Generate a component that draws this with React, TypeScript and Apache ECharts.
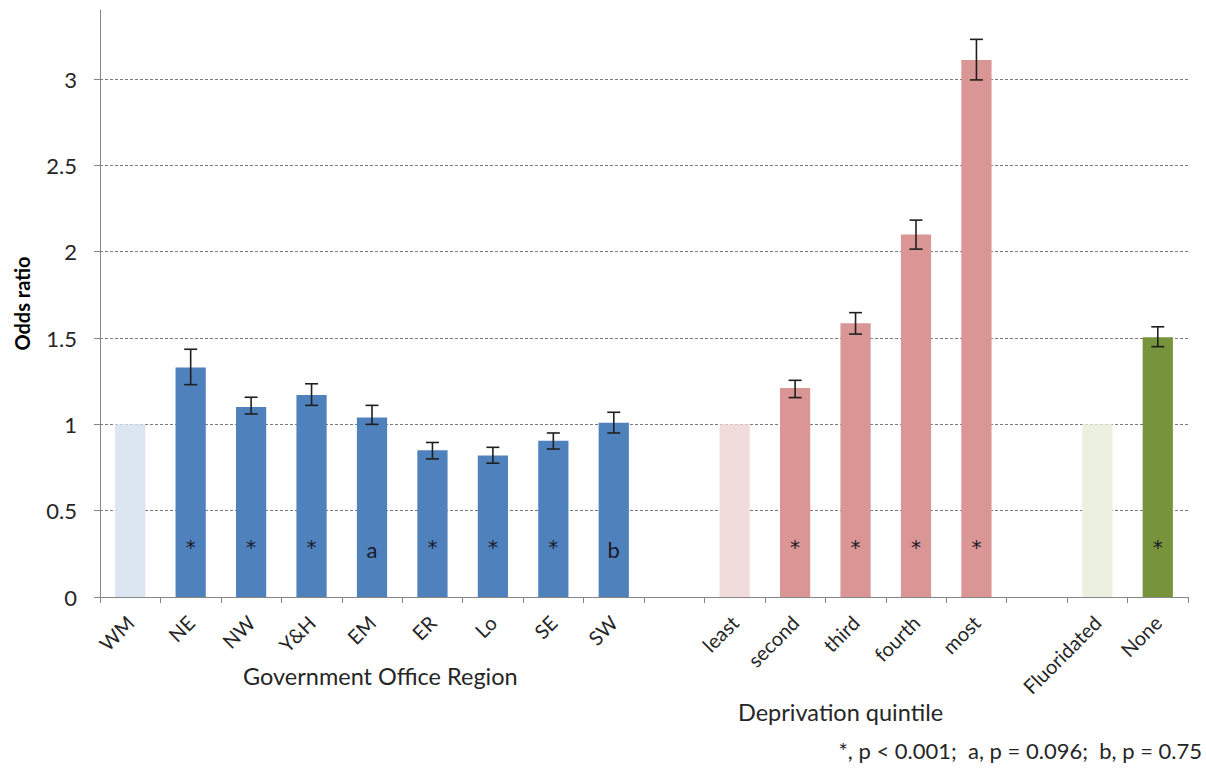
import React, { useEffect, useRef } from "react";
import * as echarts from "echarts";

const categories = ["WM", "NE", "NW", "Y&H", "EM", "ER", "Lo", "SE", "SW", "gap1", "least", "second", "third", "fourth", "most", "gap2", "Fluoridated", "None"];
const groups = ["region", "region", "region", "region", "region", "region", "region", "region", "region", "", "deprivation", "deprivation", "deprivation", "deprivation", "deprivation", "", "fluoride", "fluoride"];
const isReference = [true, false, false, false, false, false, false, false, false, false, true, false, false, false, false, false, true, false];
const oddsRatio = [1.0, 1.33, 1.10, 1.17, 1.04, 0.85, 0.82, 0.905, 1.01, null, 1.0, 1.21, 1.585, 2.10, 3.11, null, 1.0, 1.505];
const ciLow = [null, 1.23, 1.06, 1.11, 1.0, 0.80, 0.775, 0.857, 0.95, null, null, 1.155, 1.523, 2.015, 2.995, null, null, 1.45];
const ciHigh = [null, 1.435, 1.157, 1.235, 1.11, 0.895, 0.867, 0.95, 1.07, null, null, 1.255, 1.647, 2.183, 3.23, null, null, 1.565];
const significance = ["", "*", "*", "*", "a", "*", "*", "*", "b", "", "", "*", "*", "*", "*", "", "", "*"];
const yTicks = [0, 0.5, 1, 1.5, 2, 2.5, 3];
const yAxisTitle = "Odds ratio";
const groupTitles = ["Government Office Region", "Deprivation quintile"];
const footnote = "*, p < 0.001;  a, p = 0.096;  b, p = 0.75";

const FONT = "Lato";

const groupColors: Record<string, { main: string; ref: string }> = {
  region: { main: "#4f81bd", ref: "#dce6f2" },
  deprivation: { main: "#d99694", ref: "#f2dcdb" },
  fluoride: { main: "#77933c", ref: "#ebf1de" },
};

export default function App() {
  const ref = useRef<HTMLDivElement>(null);

  useEffect(() => {
    document.body.style.margin = "0";
    const chart = echarts.init(ref.current!, null, { renderer: "svg" });

    const barData = oddsRatio.map((v, i) => {
      if (v === null) return "-";
      const g = groupColors[groups[i]];
      const star = significance[i] === "*";
      return {
        value: v,
        itemStyle: { color: isReference[i] ? g.ref : g.main },
        label: {
          show: significance[i] !== "",
          formatter: significance[i],
          fontFamily: star ? "DejaVu Sans" : FONT,
          fontSize: star ? 20 : 22,
          distance: star ? 40 : 37,
        },
      };
    });

    const errData = ciLow
      .map((lo, i) => (lo === null || ciHigh[i] === null ? null : [i, lo, ciHigh[i]]))
      .filter((d) => d !== null);

    const option: any = {
      animation: false,
      grid: { left: 100, right: 18, top: 10, bottom: 179, containLabel: false },
      xAxis: {
        type: "category",
        data: categories,
        boundaryGap: true,
        axisLine: { lineStyle: { color: "#868686", width: 1 } },
        axisTick: { show: true, alignWithLabel: false, length: 6, lineStyle: { color: "#868686" } },
        axisLabel: {
          rotate: 45,
          interval: 0,
          margin: 22,
          fontFamily: FONT,
          fontSize: 20,
          color: "#262626",
          formatter: (v: string) => (v.startsWith("gap") ? "" : v),
        },
      },
      yAxis: {
        type: "value",
        min: 0,
        max: 3.4,
        interval: 0.5,
        name: yAxisTitle,
        nameLocation: "middle",
        nameGap: 68,
        nameTextStyle: { fontFamily: FONT, fontSize: 20, fontWeight: "bold", color: "#000" },
        axisLine: { show: true, lineStyle: { color: "#868686", width: 1 } },
        axisTick: { show: true, length: 6, lineStyle: { color: "#868686" } },
        axisLabel: {
          fontFamily: FONT,
          fontSize: 22,
          color: "#262626",
          margin: 23,
          showMaxLabel: false,
          formatter: (v: number) => (yTicks.includes(v) ? String(v) : ""),
        },
        splitLine: {
          show: true,
          showMinLine: false,
          showMaxLine: false,
          lineStyle: { color: "#7a7a7a", type: [3, 2], width: 1 },
        },
      },
      series: [
        {
          type: "bar",
          data: barData,
          barWidth: "50%",
          label: {
            position: "insideBottom",
            color: "#1a1a2a",
          },
          z: 2,
        },
        {
          type: "custom",
          data: errData,
          z: 3,
          renderItem: (params: any, api: any) => {
            const x = api.value(0);
            const top = api.coord([x, api.value(2)]);
            const bot = api.coord([x, api.value(1)]);
            const hw = 6.5;
            const style = { stroke: "#1f1f1f", lineWidth: 1.6 };
            return {
              type: "group",
              children: [
                { type: "line", shape: { x1: top[0], y1: top[1], x2: bot[0], y2: bot[1] }, style },
                { type: "line", shape: { x1: top[0] - hw, y1: top[1], x2: top[0] + hw, y2: top[1] }, style },
                { type: "line", shape: { x1: bot[0] - hw, y1: bot[1], x2: bot[0] + hw, y2: bot[1] }, style },
              ],
            };
          },
        },
      ],
      graphic: [
        {
          type: "text",
          left: 243,
          top: 664,
          style: { text: groupTitles[0], fontFamily: FONT, fontSize: 23.5, fill: "#262626" },
        },
        {
          type: "text",
          left: 738,
          top: 700,
          style: { text: groupTitles[1], fontFamily: FONT, fontSize: 23.5, fill: "#262626" },
        },
        {
          type: "text",
          right: 4,
          top: 739,
          style: { text: footnote, fontFamily: FONT, fontSize: 22, fill: "#262626" },
        },
      ],
    };

    chart.setOption(option);
    return () => chart.dispose();
  }, []);

  return <div ref={ref} style={{ width: 1206, height: 776, overflow: "hidden" }} />;
}
